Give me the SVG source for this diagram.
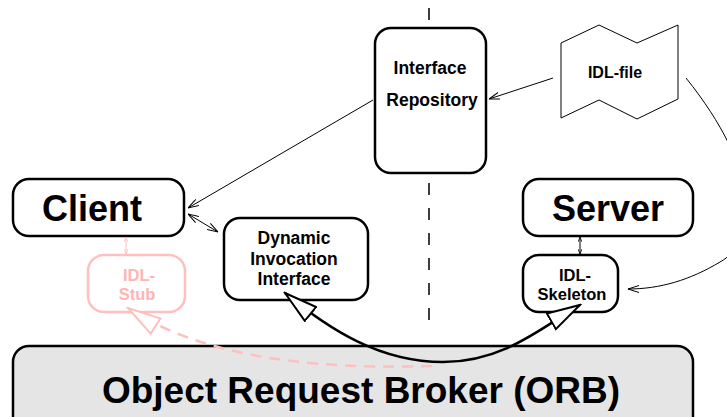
<svg xmlns="http://www.w3.org/2000/svg" width="727" height="417" viewBox="0 0 727 417">
  <style>
    .box { fill: #ffffff; stroke: #000000; stroke-width: 2.5; }
    .orb { fill: #e5e5e5; stroke: #000000; stroke-width: 2.5; }
    .pink { fill: #ffffff; stroke: #ffbfbf; stroke-width: 2.5; }
    .lbl { font-family: "Liberation Sans", Arial, sans-serif; font-weight: bold; fill: #000000; text-anchor: middle; }
    .plbl { font-family: "Liberation Sans", Arial, sans-serif; font-weight: bold; fill: #ffb3b3; text-anchor: middle; }
    .thin { fill: none; stroke: #000000; stroke-width: 1; }
    .thick { fill: none; stroke: #000000; stroke-width: 2.5; }
    .dash { fill: none; stroke: #000000; stroke-width: 1.5; stroke-dasharray: 12 13; }
    .pdash { fill: none; stroke: #ffbfbf; stroke-width: 2.5; stroke-dasharray: 11 8; }
  </style>
  <defs>
    <marker id="open" markerUnits="userSpaceOnUse" viewBox="0 0 11 8" refX="11" refY="4" markerWidth="11" markerHeight="8" orient="auto-start-reverse">
      <path d="M0,0.5 L11,4 L0,7.5" fill="none" stroke="#000000" stroke-width="1"/>
    </marker>
    <marker id="tiny" markerUnits="userSpaceOnUse" viewBox="0 0 5 4" refX="5" refY="2" markerWidth="5" markerHeight="4" orient="auto-start-reverse">
      <path d="M0,0 L5,2 L0,4" fill="none" stroke="#000000" stroke-width="0.8"/>
    </marker>
    <marker id="tinyPink" markerUnits="userSpaceOnUse" viewBox="0 0 5 4" refX="5" refY="2" markerWidth="5" markerHeight="4" orient="auto-start-reverse">
      <path d="M0,0 L5,2 L0,4" fill="none" stroke="#ffbfbf" stroke-width="0.8"/>
    </marker>
    <marker id="tri" markerUnits="userSpaceOnUse" viewBox="-1 -1 36 20" refX="33" refY="9" markerWidth="36" markerHeight="20" orient="auto-start-reverse">
      <path d="M0,0 L33,9 L0,18 Z" fill="#ffffff" stroke="#000000" stroke-width="2"/>
    </marker>
    <marker id="triPink" markerUnits="userSpaceOnUse" viewBox="-1 -1 36 20" refX="33" refY="9" markerWidth="36" markerHeight="20" orient="auto">
      <path d="M0,0 L33,9 L0,18 Z" fill="#ffffff" stroke="#ffbfbf" stroke-width="2"/>
    </marker>
  </defs>

  <!-- separator between client and server side -->
  <line class="dash" x1="429" y1="8" x2="429" y2="330"/>

  <g id="interface-repository">
    <rect class="box" x="375" y="28" width="111" height="145" rx="16"/>
    <text class="lbl" x="430" y="74" font-size="17.5">Interface</text>
    <text class="lbl" x="432" y="106" font-size="17.5">Repository</text>
  </g>

  <g id="idl-file">
    <polygon points="561,43 599,25 637,43 678,25 678,99 637,119 599,100 561,118" fill="#ffffff" stroke="#000000" stroke-width="1"/>
    <text class="lbl" x="615" y="78" font-size="16">IDL-file</text>
  </g>

  <g id="client">
    <rect class="box" x="13" y="179" width="171" height="57" rx="16"/>
    <text class="lbl" x="92" y="221" font-size="36">Client</text>
  </g>

  <g id="server">
    <rect class="box" x="523" y="179" width="170" height="57" rx="16"/>
    <text class="lbl" x="608" y="221" font-size="36">Server</text>
  </g>

  <g id="dii">
    <rect class="box" x="224" y="218" width="144" height="82" rx="16"/>
    <text class="lbl" x="294" y="244" font-size="17.5">Dynamic</text>
    <text class="lbl" x="294" y="265" font-size="17.5">Invocation</text>
    <text class="lbl" x="294" y="285" font-size="17.5">Interface</text>
  </g>

  <g id="idl-stub">
    <rect class="pink" x="88" y="255" width="97" height="57" rx="16"/>
    <text class="plbl" x="139" y="281" font-size="16.5">IDL-</text>
    <text class="plbl" x="137" y="300" font-size="16.5">Stub</text>
  </g>

  <g id="idl-skeleton">
    <rect class="box" x="523" y="255" width="95" height="57" rx="16"/>
    <text class="lbl" x="575" y="281" font-size="16.5">IDL-</text>
    <text class="lbl" x="572" y="300" font-size="16.5">Skeleton</text>
  </g>

  <g id="orb">
    <rect class="orb" x="13" y="346" width="680" height="100" rx="16"/>
    <text class="lbl" x="361" y="403" font-size="37">Object Request Broker (ORB)</text>
  </g>

  <g id="connectors">
    <line class="thin" x1="553" y1="78" x2="489" y2="99" marker-end="url(#open)"/>
    <line class="thin" x1="373" y1="100" x2="188" y2="208" marker-end="url(#open)"/>
    <line class="thin" x1="188" y1="214" x2="218" y2="232" marker-start="url(#open)" marker-end="url(#open)"/>
    <line class="thin" x1="580" y1="237" x2="580" y2="254" marker-start="url(#tiny)" marker-end="url(#tiny)"/>
    <line x1="126" y1="237" x2="126" y2="254" fill="none" stroke="#ffbfbf" stroke-width="1" marker-start="url(#tinyPink)" marker-end="url(#tinyPink)"/>
    <path class="thin" d="M686,78 C760,170 760,240 720,262 C690,280 660,289 628,289" marker-end="url(#open)"/>
    <path class="pdash" d="M432,366 C330,369 210,362 128,308" marker-end="url(#triPink)"/>
    <path class="thick" d="M285,293 C330,330 380,362 443,362 C505,362 545,325 580,305" marker-start="url(#tri)" marker-end="url(#tri)"/>
  </g>
</svg>
